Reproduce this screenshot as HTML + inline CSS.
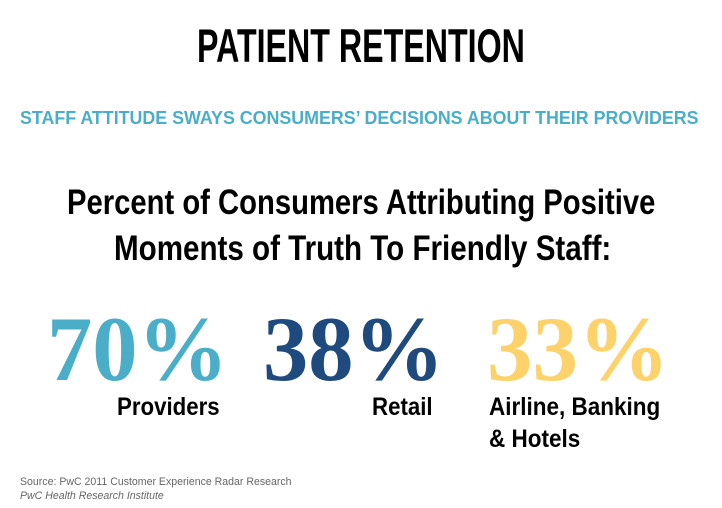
<!DOCTYPE html>
<html><head><meta charset="utf-8"><style>
body{margin:0;width:722px;height:508px;background:#fff;position:relative;overflow:hidden;font-family:"Liberation Sans",sans-serif}
.t{position:absolute;white-space:nowrap;line-height:1;font-weight:bold;transform-origin:left top}
.n{position:absolute;white-space:nowrap;line-height:1;font-family:"Liberation Serif",serif;font-weight:bold;font-size:92px;transform-origin:left top}
</style></head><body>
<div class="t" style="left:197px;top:22px;font-size:47px;transform:scaleX(0.685);color:#000">PATIENT RETENTION</div>
<div class="t" style="left:20px;top:109px;font-size:18px;transform:scaleX(0.99);color:#4BAEC8">STAFF ATTITUDE SWAYS CONSUMERS’ DECISIONS ABOUT THEIR PROVIDERS</div>
<div class="t" style="left:67px;top:185px;font-size:35px;transform:scaleX(0.835);color:#000">Percent of Consumers Attributing Positive</div>
<div class="t" style="left:114px;top:231px;font-size:35px;transform:scaleX(0.845);color:#000">Moments of Truth To Friendly Staff:</div>
<div class="n" style="left:47px;top:303px;color:#4BAEC8;transform:scaleX(0.985)">70%</div>
<div class="n" style="left:263px;top:303px;color:#1F4A7E;transform:scaleX(0.985)">38%</div>
<div class="n" style="left:487px;top:303px;color:#FDD26B;transform:scaleX(0.99)">33%</div>
<div class="t" style="left:117px;top:395px;font-size:25px;transform:scaleX(0.89)">Providers</div>
<div class="t" style="left:372px;top:395px;font-size:25px;transform:scaleX(0.89)">Retail</div>
<div class="t" style="left:489px;top:395px;font-size:25px;transform:scaleX(0.9)">Airline, Banking</div>
<div class="t" style="left:489px;top:427px;font-size:25px;transform:scaleX(0.9)">&amp; Hotels</div>
<div class="t" style="left:20px;top:477px;font-size:11px;font-weight:normal;color:#666;transform:scaleX(0.96)">Source: PwC 2011 Customer Experience Radar Research</div>
<div class="t" style="left:20px;top:491px;font-size:11px;font-weight:normal;font-style:italic;color:#666;transform:scaleX(0.96)">PwC Health Research Institute</div>
</body></html>
